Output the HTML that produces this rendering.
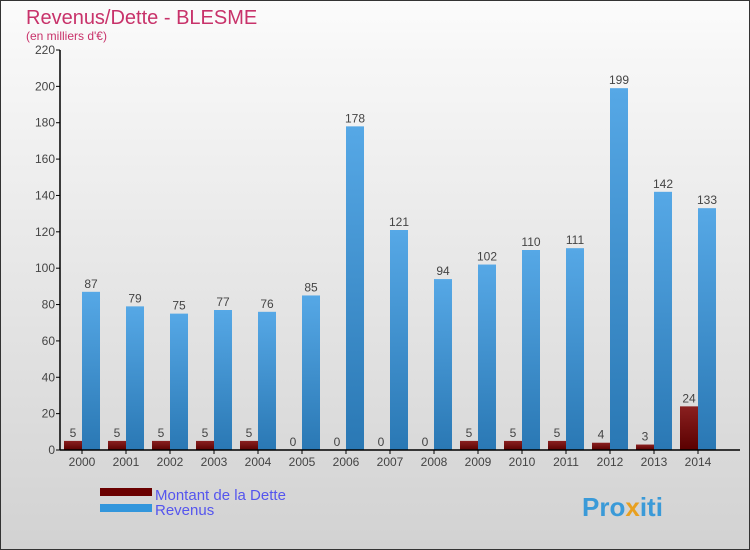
<!DOCTYPE html>
<html><head><meta charset="utf-8"><style>
body{margin:0}
#c{width:750px;height:550px;position:relative;overflow:hidden;font-family:"Liberation Sans",sans-serif}
</style></head><body>
<div id="c">
<svg id="s" width="750" height="550" xmlns="http://www.w3.org/2000/svg">
<defs>
<linearGradient id="bg" x1="0" y1="0" x2="0" y2="1"><stop offset="0" stop-color="#fbfbfb"/><stop offset="1" stop-color="#d2d2d2"/></linearGradient>
<linearGradient id="rv" x1="0" y1="0" x2="0" y2="1"><stop offset="0" stop-color="#56a8e6"/><stop offset="1" stop-color="#2a78b4"/></linearGradient>
<linearGradient id="dt" x1="0" y1="0" x2="0" y2="1"><stop offset="0" stop-color="#8a2020"/><stop offset="1" stop-color="#5a0000"/></linearGradient>
</defs>
<rect x="0.5" y="0.5" width="749" height="549" fill="url(#bg)" stroke="#333"/>
<text x="26" y="24" font-size="20" fill="#c8326a">Revenus/Dette - BLESME</text>
<text x="26" y="40" font-size="12" fill="#c8326a">(en milliers d'€)</text>
<g id="g"></g>
<rect x="100" y="488" width="52" height="8" fill="#6a0000"/>
<rect x="100" y="504" width="52" height="8" fill="#3296dc"/>
<text x="155" y="500" font-size="15" fill="#5555ee">Montant de la Dette</text>
<text x="155" y="515" font-size="15" fill="#5555ee">Revenus</text>
<text x="582" y="516" font-size="26" font-weight="bold" fill="#3a9ad8">Pro<tspan fill="#e8a020">x</tspan>iti</text>
</svg>
</div>
<script>
const years=["2000","2001","2002","2003","2004","2005","2006","2007","2008","2009","2010","2011","2012","2013","2014"];
const debt=[5,5,5,5,5,0,0,0,0,5,5,5,4,3,24];
const revenue=[87,79,75,77,76,85,178,121,94,102,110,111,199,142,133];
const yTicks=[0,20,40,60,80,100,120,140,160,180,200,220];
const NS="http://www.w3.org/2000/svg";
const g=document.getElementById('g');
const x0=60,yb=450,yt=50,ymax=220,step=44;
const y=v=>yb-(v/ymax)*(yb-yt);
const gx=i=>x0+4+i*step;
function el(t,a){const e=document.createElementNS(NS,t);for(const k in a)e.setAttribute(k,a[k]);g.appendChild(e);return e;}
yTicks.forEach(t=>{
 const l=el('line',{x1:x0-4,x2:x0,y1:y(t),y2:y(t),stroke:'#000'});
 
 
 const tx=el('text',{x:x0-5,y:y(t)+4,'font-size':12,'text-anchor':'end',fill:'#444'});tx.textContent=t;
 
 
});
years.forEach((yr,i)=>{
 const bx=gx(i);
 const d=el('rect',{x:bx,y:y(debt[i]),width:18,height:yb-y(debt[i]),fill:'url(#dt)'});
 
 
 const r=el('rect',{x:bx+18,y:y(revenue[i]),width:18,height:yb-y(revenue[i]),fill:'url(#rv)'});
 
 
 const dl=el('text',{x:bx+9,y:y(debt[i])-4,'font-size':12,'text-anchor':'middle',fill:'#444'});dl.textContent=debt[i];
 
 
 const rl=el('text',{x:bx+27,y:y(revenue[i])-4,'font-size':12,'text-anchor':'middle',fill:'#444'});rl.textContent=revenue[i];
 
 
 const tk=el('line',{x1:bx+18,x2:bx+18,y1:yb,y2:yb+4,stroke:'#000'});
 
 
 const xl=el('text',{x:bx+18,y:yb+16,'font-size':12,'text-anchor':'middle',fill:'#444'});xl.textContent=yr;
 
 
});
const ya=el('line',{x1:x0,x2:x0,y1:yt,y2:yb,stroke:'#000','stroke-width':1.5});


const xa=el('line',{x1:x0,x2:740,y1:yb,y2:yb,stroke:'#000','stroke-width':1.5});


</script>
</body></html>
